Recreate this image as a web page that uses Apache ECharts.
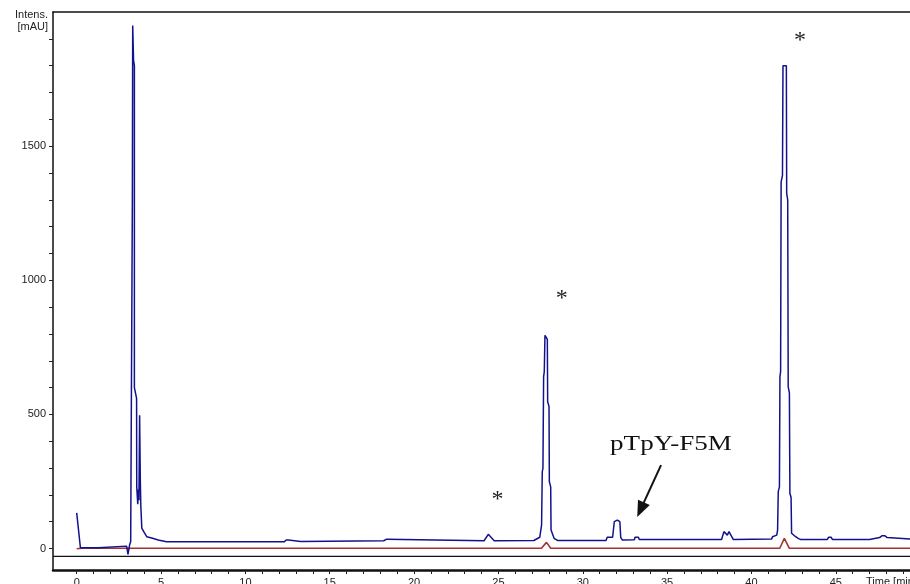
<!DOCTYPE html>
<html>
<head>
<meta charset="utf-8">
<script src="https://cdn.jsdelivr.net/npm/echarts@6/dist/echarts.min.js"></script>
<style>html,body{margin:0;padding:0;background:#fff;}#c{width:910px;height:584px;}</style>
</head>
<body>
<div id="c"></div>
<script>
// Blue trace (UV, mAU)
const blueTime = [0,0.22,1.28,1.32,2.96,3.04,3.1,3.14,3.2,3.3,3.32,3.37,3.37,3.42,3.42,3.55,3.56,3.62,3.66,3.69,3.73,3.77,3.8,3.86,4.0,4.15,4.5,4.83,5.33,12.3,12.42,12.55,12.65,13.28,13.32,18.2,18.28,18.38,18.45,24.15,24.4,24.75,27.1,27.45,27.56,27.6,27.64,27.68,27.72,27.76,27.8,27.9,27.92,28.0,28.02,28.1,28.12,28.3,28.5,31.38,31.45,31.77,31.87,31.92,31.98,32.05,32.2,32.25,32.34,33.06,33.1,33.3,33.35,38.23,38.37,38.47,38.57,38.67,38.77,38.92,41.2,41.25,41.5,41.55,41.59,41.66,41.69,41.73,41.76,41.84,41.87,42.07,42.09,42.15,42.18,42.25,42.28,42.35,42.38,42.6,42.77,42.9,44.5,44.58,44.72,44.8,47.0,47.05,47.6,47.75,47.9,48.05,48.1,49.7];
const blueValue = [133,3,3,9,9,-22,-22,15,25,1300,1950,1950,1820,1800,600,560,230,165,220,180,497,260,160,76,60,44,38,32,25,25,32,32,26,26,29,29,35,35,29,29,53,29,30,42,88,286,300,640,660,795,795,780,547,530,249,230,69,38,30,30,42,42,100,106,98,106,100,42,32,33,42,42,34,34,63,63,50,63,63,34,36,44,50,69,212,230,640,660,1367,1390,1800,1800,1324,1300,603,580,206,190,57,45,38,34,34,42,42,34,34,41,41,48,48,41,34,34];
// Red trace
const redTime = [0,0.3,27.55,27.85,28.1,41.68,41.95,42.25,49.7];
const redValue = [-1,1,1,23,1,1,38,1,1];
// Black reference trace
const baseTime = [-1.405,49.7];
const baseValue = [-29,-29];
// Axis ticks and labels
const xTicks = Array.from({length:50},(_, i)=>i);
const xLabels = [0,5,10,15,20,25,30,35,40,45];
const yTicks = [0,100,200,300,400,500,600,700,800,900,1000,1100,1200,1300,1400,1500,1600,1700,1800,1900];
const yLabels = [0,500,1000,1500];
// Annotations (data coordinates)
const stars = [[24.89,199],[28.69,949],[42.82,1912]];
const peakLabel = {text:'pTpY-F5M', t:31.62, v:389};
const arrow = {from:[34.64,311], to:[33.23,118]};

const zip = (a,b)=>a.map((x,i)=>[x,b[i]]);
const chart = echarts.init(document.getElementById('c'), null, {renderer:'canvas'});
const font = 'Liberation Sans, Arial, sans-serif';
const XMIN = -1.405, XMAX = 49.4;
chart.setOption({
  animation:false,
  grid:{left:53, top:12, right:0, bottom:14, show:false, containLabel:false, outerBoundsMode:'none'},
  xAxis:[{type:'value', min:XMIN, max:XMAX, position:'bottom',
    axisLine:{show:true, onZero:false, lineStyle:{color:'#111', width:2.5}},
    axisTick:{show:true, length:4, customValues:xTicks, lineStyle:{color:'#222', width:1}},
    axisLabel:{customValues:xLabels, margin:7, fontSize:11, fontFamily:font, color:'#222'},
    splitLine:{show:false}},
   {type:'value', min:XMIN, max:XMAX, position:'top',
    axisLine:{show:true, onZero:false, lineStyle:{color:'#111', width:1.5}},
    axisTick:{show:false}, axisLabel:{show:false}, splitLine:{show:false}}],
  yAxis:{type:'value', min:-80, max:2000,
    axisLine:{show:true, onZero:false, lineStyle:{color:'#111', width:1.5}},
    axisTick:{show:true, length:4, customValues:yTicks, lineStyle:{color:'#222', width:1}},
    axisLabel:{customValues:yLabels, margin:7, fontSize:11, fontFamily:font, color:'#222', formatter:v=>String(v)},
    splitLine:{show:false}},
  series:[
    {type:'line', data:zip(baseTime,baseValue), showSymbol:false, lineStyle:{color:'#111', width:1.3}, z:1},
    {type:'line', data:zip(redTime,redValue), showSymbol:false, lineStyle:{color:'#a33232', width:1.6}, z:2},
    {type:'line', data:zip(blueTime,blueValue), showSymbol:false, lineStyle:{color:'#12128c', width:1.5}, z:3}
  ]
});

function px(p){ return chart.convertToPixel({xAxisIndex:0, yAxisIndex:0}, p); }
const g = [];
g.push({type:'text', x:48, y:9, style:{text:'Intens.\n[mAU]', font:'11px '+font, lineHeight:12, fill:'#222', align:'right', textAlign:'right', verticalAlign:'top', textVerticalAlign:'top'}});
g.push({type:'text', x:866, y:576, style:{text:'Time [min]', font:'11px '+font, fill:'#222', align:'left', textAlign:'left', verticalAlign:'top', textVerticalAlign:'top'}});
stars.forEach(s=>{ const p = px(s);
  g.push({type:'text', x:p[0]+1, y:p[1]+5, style:{text:'*', font:'24px Liberation Serif, serif', fill:'#222', align:'center', textAlign:'center', verticalAlign:'middle', textVerticalAlign:'middle'}});
});
const lp = px([peakLabel.t, peakLabel.v]);
g.push({type:'text', x:lp[0], y:lp[1], scaleX:1.23, style:{text:peakLabel.text, font:'22px Liberation Serif, serif', fill:'#111', align:'left', textAlign:'left', verticalAlign:'middle', textVerticalAlign:'middle'}});
const a0 = px(arrow.from), a1 = px(arrow.to);
const dx = a1[0]-a0[0], dy = a1[1]-a0[1], len = Math.hypot(dx,dy), ux = dx/len, uy = dy/len;
const hl = 16, hw = 6.5;
const bx = a1[0]-ux*hl, by = a1[1]-uy*hl;
g.push({type:'line', shape:{x1:a0[0], y1:a0[1], x2:bx+ux*2, y2:by+uy*2}, style:{stroke:'#111', lineWidth:2}});
g.push({type:'polygon', shape:{points:[[a1[0],a1[1]],[bx-uy*hw, by+ux*hw],[bx+uy*hw, by-ux*hw]]}, style:{fill:'#111'}});
chart.setOption({graphic:{elements:g}});
</script>
</body>
</html>
